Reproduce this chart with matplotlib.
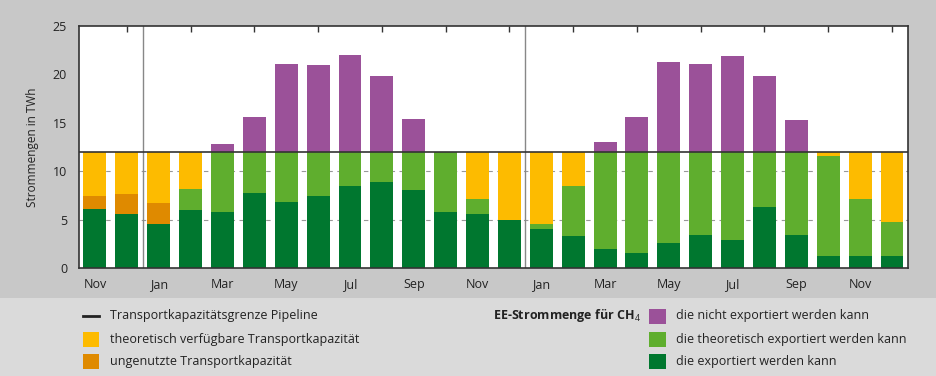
import numpy as np
import matplotlib
matplotlib.use("Agg")
import matplotlib.pyplot as plt
from matplotlib.patches import Rectangle
from matplotlib.lines import Line2D

plt.rcParams["font.family"] = ["Open Sans", "DejaVu Sans"]
plt.rcParams["mathtext.fontset"] = "custom"
plt.rcParams["mathtext.rm"] = "Open Sans"
plt.rcParams["mathtext.bf"] = "Open Sans:bold"

# data (TWh per month), Nov of year 0 to Dec of year 2
months = ["Nov", "Dec", "Jan", "Feb", "Mar", "Apr", "May", "Jun", "Jul", "Aug", "Sep", "Oct",
          "Nov", "Dec", "Jan", "Feb", "Mar", "Apr", "May", "Jun", "Jul", "Aug", "Sep", "Oct",
          "Nov", "Dec"]
capacity = 12.0

export_ok = [6.13, 5.58, 4.58, 6.03, 5.82, 7.78, 6.85, 7.44, 8.50, 8.92, 8.03, 5.82, 5.58,
             4.99, 4.06, 3.34, 1.93, 1.58, 2.62, 3.41, 2.93, 6.27, 3.41, 1.20, 1.27, 1.27]
export_theo = [0, 0, 0, 2.13, 6.18, 4.22, 5.15, 4.56, 3.50, 3.08, 3.97, 6.18, 1.51,
               0, 0.52, 5.16, 10.07, 10.42, 9.38, 8.59, 9.07, 5.73, 8.59, 10.40, 5.86, 3.51]
cap_unused = [1.31, 2.10, 2.17, 0, 0, 0, 0, 0, 0, 0, 0, 0, 0,
              0, 0, 0, 0, 0, 0, 0, 0, 0, 0, 0, 0, 0]
cap_free = [4.56, 4.32, 5.25, 3.84, 0, 0, 0, 0, 0, 0, 0, 0, 4.91,
            7.01, 7.42, 3.50, 0, 0, 0, 0, 0, 0, 0, 0.40, 4.87, 7.22]
not_export = [0, 0, 0, 0, 0.84, 3.60, 9.10, 8.97, 9.97, 7.87, 3.43, 0, 0,
              0, 0, 0, 1.05, 3.56, 9.32, 9.04, 9.90, 7.80, 3.29, 0, 0, 0]

c_dark = "#00772f"
c_light = "#5fae2e"
c_orange = "#df8a00"
c_yellow = "#fdbb00"
c_purple = "#9b5199"

fig = plt.figure(figsize=(9.37, 3.76), dpi=100, facecolor="#c8c8c8")
fig.add_artist(Rectangle((0, 0), 1, 0.207, transform=fig.transFigure,
                         facecolor="#dadada", edgecolor="none", zorder=0))

ax = fig.add_axes([0.0843, 0.2872, 0.8847, 0.6437])
x = np.arange(len(months))
w = 0.72

bottom = np.zeros(len(months))
for vals, col in [(export_ok, c_dark), (export_theo, c_light), (cap_unused, c_orange),
                  (cap_free, c_yellow), (not_export, c_purple)]:
    vals = np.array(vals)
    ax.bar(x, vals, w, bottom=bottom, color=col, zorder=2, linewidth=0)
    bottom += vals

for g in [5, 10]:
    ax.axhline(g, color="#999999", lw=0.8, ls=(0, (4, 4)), zorder=1)
ax.axhline(capacity, color="#333333", lw=1.2, zorder=3)
for v in [1.5, 13.5]:
    ax.axvline(v, color="#888888", lw=1.0, zorder=1)

ax.set_xlim(-0.5, len(months) - 0.5)
ax.set_ylim(0, 25)
ax.set_yticks([0, 5, 10, 15, 20, 25])
ax.set_xticks(x[::2])
ax.set_xticklabels(months[::2])
ax.tick_params(axis="x", which="both", bottom=False, top=False, labelsize=9, colors="#222222", pad=4)
ax.tick_params(axis="y", left=False, labelsize=9, colors="#222222", pad=5)
ax.set_xticks(x, minor=True)
ax.tick_params(axis="x", which="minor", top=True, direction="in", length=4, width=1, color="#333333")
for s in ax.spines.values():
    s.set_color("#333333")
    s.set_linewidth(1.2)
ax.set_ylabel("Strommengen in TWh", fontsize=8.5, color="#222222", labelpad=10)

# legend
def fy(py):
    return 1 - py / 376.0

def fx(px):
    return px / 937.0

fs = 9
fig.add_artist(Line2D([fx(83), fx(99)], [fy(316), fy(316)], transform=fig.transFigure,
                      color="#222222", lw=2))
fig.text(fx(110), fy(316), "Transportkapazitätsgrenze Pipeline", fontsize=fs, va="center", color="#222222")
for py, col, label in [(339, c_yellow, "theoretisch verfügbare Transportkapazität"),
                       (361, c_orange, "ungenutzte Transportkapazität")]:
    fig.add_artist(Rectangle((fx(83), fy(py + 8)), fx(16), 15 / 376.0, transform=fig.transFigure,
                             facecolor=col, edgecolor="none"))
    fig.text(fx(110), fy(py), label, fontsize=fs, va="center", color="#222222")

fig.text(fx(493), fy(316), r"EE-Strommenge für CH$_{\mathrm{4}}$", fontsize=fs, fontweight="bold",
         va="center", color="#222222")
for py, col, label in [(316, c_purple, "die nicht exportiert werden kann"),
                       (339, c_light, "die theoretisch exportiert werden kann"),
                       (361, c_dark, "die exportiert werden kann")]:
    fig.add_artist(Rectangle((fx(649), fy(py + 8)), fx(17), 15 / 376.0, transform=fig.transFigure,
                             facecolor=col, edgecolor="none"))
    fig.text(fx(676), fy(py), label, fontsize=fs, va="center", color="#222222")

fig.savefig("out.png", dpi=100, facecolor=fig.get_facecolor())
